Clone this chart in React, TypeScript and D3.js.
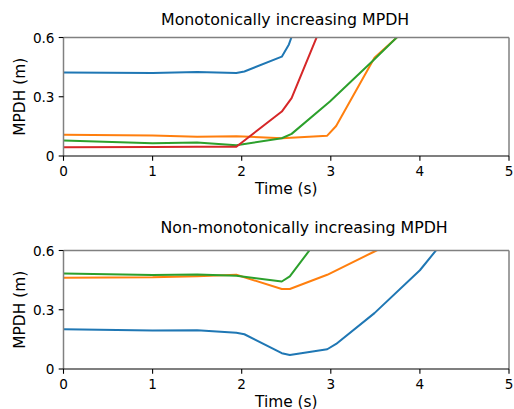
import React from "react";
import * as d3 from "d3";

// ---- Data ----
const xTicks = [0, 1, 2, 3, 4, 5];
const yTicks = [0, 0.3, 0.6];
const yTickLabels = ["0", "0.3", "0.6"];

const topTitle = "Monotonically increasing MPDH";
const bottomTitle = "Non-monotonically increasing MPDH";

const topBlueT = [0, 1, 1.5, 1.94, 2.03, 2.45, 2.53, 2.95];
const topBlueV = [0.423, 0.42, 0.425, 0.42, 0.428, 0.503, 0.565, 1.1];
const topOrangeT = [0, 1, 1.5, 1.94, 2.45, 2.96, 3.06, 3.49, 3.96];
const topOrangeV = [0.107, 0.104, 0.098, 0.1, 0.09, 0.103, 0.152, 0.497, 0.69];
const topGreenT = [0, 1, 1.5, 1.94, 2.45, 2.56, 2.99, 3.49, 3.96];
const topGreenV = [0.078, 0.064, 0.068, 0.054, 0.09, 0.112, 0.276, 0.49, 0.697];
const topRedT = [0, 1, 1.5, 1.94, 2.45, 2.56, 2.95];
const topRedV = [0.044, 0.045, 0.047, 0.047, 0.225, 0.293, 0.72];

const botBlueT = [0, 1, 1.5, 1.94, 2.03, 2.45, 2.54, 2.96, 3.06, 3.49, 4.0, 4.45];
const botBlueV = [0.201, 0.195, 0.196, 0.184, 0.176, 0.08, 0.071, 0.1, 0.127, 0.283, 0.5, 0.75];
const botOrangeT = [0, 1, 1.5, 1.94, 2.45, 2.54, 2.96, 3.49, 3.96];
const botOrangeV = [0.462, 0.464, 0.47, 0.477, 0.405, 0.405, 0.477, 0.595, 0.7];
const botGreenT = [0, 1, 1.5, 1.94, 2.45, 2.54, 2.96];
const botGreenV = [0.484, 0.476, 0.479, 0.472, 0.443, 0.469, 0.72];

const BLUE = "#1f77b4";
const ORANGE = "#ff7f0e";
const GREEN = "#2ca02c";
const RED = "#d62728";

const FONT = "DejaVu Sans, sans-serif";

type Series = { t: number[]; v: number[]; color: string };

const topSeries: Series[] = [
  { t: topBlueT, v: topBlueV, color: BLUE },
  { t: topOrangeT, v: topOrangeV, color: ORANGE },
  { t: topGreenT, v: topGreenV, color: GREEN },
  { t: topRedT, v: topRedV, color: RED },
];
const botSeries: Series[] = [
  { t: botBlueT, v: botBlueV, color: BLUE },
  { t: botOrangeT, v: botOrangeV, color: ORANGE },
  { t: botGreenT, v: botGreenV, color: GREEN },
];

function Panel({ id, top, bottom, title, titleX, titleGap, series }: { id: string; top: number; bottom: number; title: string; titleX: number; titleGap: number; series: Series[] }) {
  const left = 63.5;
  const right = 509;
  const x = d3.scaleLinear().domain([0, 5]).range([left, right]);
  const y = d3.scaleLinear().domain([0, 0.6]).range([bottom, top]);
  const line = d3
    .line<[number, number]>()
    .x((d) => x(d[0]))
    .y((d) => y(d[1]));
  return (
    <g>
      <defs>
        <clipPath id={id}>
          <rect x={left} y={top} width={right - left} height={bottom - top} />
        </clipPath>
      </defs>
      <g clipPath={`url(#${id})`}>
        {series.map((s, i) => (
          <path
            key={i}
            d={line(s.t.map((t, j) => [t, s.v[j]] as [number, number])) || ""}
            fill="none"
            stroke={s.color}
            strokeWidth={2}
            strokeLinejoin="round"
            strokeLinecap="butt"
          />
        ))}
      </g>
      {/* spines */}
      <line x1={left} x2={right} y1={top} y2={top} stroke="#808080" strokeWidth={1.5} />
      <line x1={right} x2={right} y1={top} y2={bottom} stroke="#808080" strokeWidth={1.5} />
      <line x1={left} x2={left} y1={top} y2={bottom} stroke="#808080" strokeWidth={1.5} />
      <line x1={left} x2={right} y1={bottom} y2={bottom} stroke="#000" strokeWidth={1.2} />
      {/* x ticks */}
      {xTicks.map((t) => (
        <g key={t}>
          <line x1={x(t)} x2={x(t)} y1={bottom} y2={bottom + 4.8} stroke="#000" strokeWidth={1.1} />
          <text x={x(t)} y={bottom + 20} fontSize={13.6} fontFamily={FONT} textAnchor="middle" fill="#000">
            {t}
          </text>
        </g>
      ))}
      {/* y ticks */}
      {yTicks.map((t, i) => (
        <g key={t}>
          <line x1={left - 4.8} x2={left} y1={y(t)} y2={y(t)} stroke="#000" strokeWidth={1.1} />
          <text x={left - 9} y={y(t) + 5} fontSize={13.6} fontFamily={FONT} textAnchor="end" fill="#000">
            {yTickLabels[i]}
          </text>
        </g>
      ))}
      <text x={(left + right) / 2} y={bottom + 37.5} fontSize={15.4} fontFamily={FONT} textAnchor="middle" fill="#000">
        Time (s)
      </text>
      <text
        transform={`translate(25,${(top + bottom) / 2}) rotate(-90)`}
        fontSize={15.4}
        fontFamily={FONT}
        textAnchor="middle"
        fill="#000"
      >
        MPDH (m)
      </text>
      <text x={titleX} y={top - titleGap} fontSize={15.8} fontFamily={FONT} textAnchor="start" fill="#000">
        {title}
      </text>
    </g>
  );
}

export default function App() {
  return (
    <svg width={514} height={409} style={{ position: "absolute", left: 0, top: 0, background: "#fff" }}>
      <rect width={514} height={409} fill="#fff" />
      <Panel id="clipTop" top={37.5} bottom={156} title={topTitle} titleX={161} titleGap={12.5} series={topSeries} />
      <Panel id="clipBot" top={250.5} bottom={369} title={bottomTitle} titleX={160.5} titleGap={17.5} series={botSeries} />
    </svg>
  );
}
